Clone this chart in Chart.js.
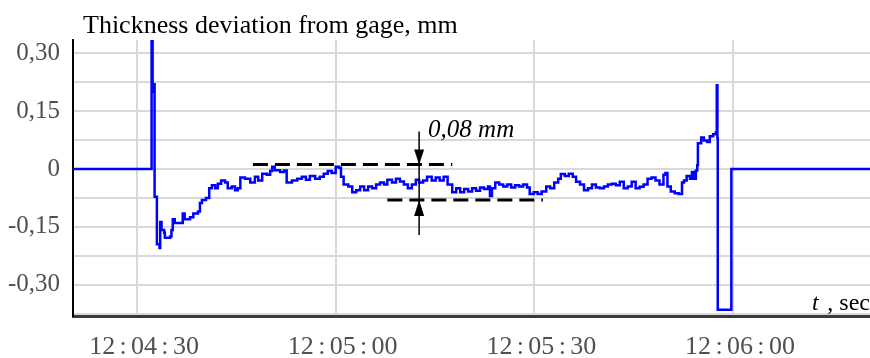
<!DOCTYPE html>
<html>
<head>
<meta charset="utf-8">
<title>Thickness deviation from gage</title>
<script src="https://cdn.jsdelivr.net/npm/chart.js@4.4.1/dist/chart.umd.min.js"></script>
<style>
  html, body { margin: 0; padding: 0; background: #fff; }
  #wrap { width: 870px; height: 358px; position: relative; }
</style>
</head>
<body>
<div id="wrap"><canvas id="chart"></canvas></div>
<script>
// time in seconds after 12:04:00, deviation in mm
const TIME_S = [
  20.3, 32.1, 32.2, 32.25, 32.3, 32.35, 32.65, 33.0, 33.4, 33.5, 33.7, 34.1, 34.2, 35.0,
  35.2, 35.4, 35.7, 36.5, 36.9, 37.2, 38.0, 38.5, 39.2, 39.5, 39.8, 40.4, 40.9, 41.3, 41.8,
  42.2, 42.7, 43.3, 43.7, 44.3, 44.8, 45.2, 45.6, 46.3, 47.1, 47.8, 48.3, 48.9, 49.6, 50.1,
  50.4, 50.8, 51.6, 52.2, 52.6, 53.4, 54.2, 54.9, 55.5, 56.1, 56.9, 57.6, 58.2, 58.8, 59.4,
  60.0, 60.5, 60.8, 61.2, 61.9, 62.5, 63.1, 63.7, 64.3, 64.9, 65.5, 66.1, 66.7, 67.3, 67.8,
  68.5, 69.1, 69.7, 70.3, 70.9, 71.5, 72.1, 72.6, 73.2, 73.8, 74.5, 75.1, 75.7, 76.3, 76.9,
  77.6, 78.2, 78.8, 79.4, 80.0, 80.6, 81.2, 81.8, 82.4, 83.0, 83.3, 83.6, 84.1, 84.7, 85.3,
  85.9, 86.5, 87.1, 87.7, 88.3, 88.9, 89.3, 89.9, 90.5, 91.1, 91.8, 92.4, 93.0, 93.6, 94.0,
  94.6, 95.2, 95.8, 96.3, 96.9, 97.5, 98.1, 98.7, 99.3, 99.9, 100.5, 101.1, 101.7, 102.3, 102.9,
  103.5, 104.1, 104.7, 105.3, 105.9, 106.5, 107.1, 107.7, 108.3, 108.9, 109.5, 109.8, 110.1, 110.6, 111.2,
  111.8, 112.3, 112.6, 113.0, 113.5, 113.8, 114.1, 114.4, 114.6, 114.7, 115.2, 115.6, 116.1, 116.5, 117.0,
  117.4, 117.55, 117.65, 117.7, 119.75, 140.7
];
const DEVIATION_MM = [
  0, 0, 0.40, 0.20, 0.40, 0.22, -0.072, -0.195, -0.205, -0.137, -0.158, -0.165, -0.178, -0.175,
  -0.158, -0.13, -0.14, -0.14, -0.115, -0.13, -0.125, -0.115, -0.11, -0.088, -0.08, -0.075, -0.05, -0.042, -0.05,
  -0.038, -0.03, -0.035, -0.05, -0.045, -0.055, -0.05, -0.022, -0.025, -0.035, -0.02, -0.03, -0.012, -0.015, -0.005,
  0.006, -0.003, -0.008, -0.004, -0.035, -0.03, -0.025, -0.02, -0.028, -0.018, -0.025, -0.02, -0.012, -0.005, -0.01,
  0.006, 0.003, -0.02, -0.04, -0.045, -0.06, -0.055, -0.045, -0.055, -0.045, -0.05, -0.04, -0.035, -0.04, -0.028,
  -0.035, -0.025, -0.032, -0.04, -0.05, -0.04, -0.028, -0.035, -0.03, -0.02, -0.03, -0.022, -0.03, -0.02, -0.04,
  -0.06, -0.05, -0.06, -0.052, -0.058, -0.05, -0.056, -0.048, -0.052, -0.045, -0.07, -0.05, -0.035, -0.04, -0.045,
  -0.04, -0.048, -0.042, -0.045, -0.04, -0.048, -0.065, -0.06, -0.065, -0.058, -0.045, -0.05, -0.035, -0.025, -0.013,
  -0.018, -0.012, -0.02, -0.033, -0.04, -0.055, -0.05, -0.04, -0.048, -0.05, -0.045, -0.04, -0.038, -0.042, -0.033,
  -0.05, -0.045, -0.033, -0.05, -0.046, -0.04, -0.025, -0.022, -0.03, -0.04, -0.015, -0.01, -0.045, -0.058, -0.063,
  -0.065, -0.035, -0.03, -0.018, -0.025, -0.008, -0.025, -0.004, 0.01, 0.067, 0.082, 0.074, 0.07, 0.085, 0.09,
  0.095, 0.217, 0.08, -0.365, 0, 0
];

const X_TICKS = [30, 60, 90, 120];
const X_TICK_LABELS = ['12\u2006:\u200604\u2006:\u200630', '12\u2006:\u200605\u2006:\u200600',
                       '12\u2006:\u200605\u2006:\u200630', '12\u2006:\u200606\u2006:\u200600'];
const Y_TICKS = [-0.375, -0.3, -0.225, -0.15, -0.075, 0, 0.075, 0.15, 0.225, 0.3];
const Y_TICK_LABELS = ['', '-0,30', '', '-0,15', '', '0', '', '0,15', '', '0,30'];

// the 0,08 mm band marked on the plot: [t from, t to, level]
const BAND_LINES = [[47.5, 77.6, 0.012], [67.8, 91.3, -0.080]];
const BAND_ARROW_T = 72.6;
const BAND_LABEL = '0,08 mm';

const SERIF = "'Liberation Serif', 'Times New Roman', serif";

const bandPlugin = {
  id: 'band',
  afterDatasetsDraw(chart) {
    const { ctx, scales: { x, y } } = chart;
    ctx.save();
    ctx.strokeStyle = '#000';
    ctx.fillStyle = '#000';
    ctx.lineWidth = 3;
    ctx.setLineDash([15, 7]);
    BAND_LINES.forEach(([t0, t1, v]) => {
      ctx.beginPath();
      ctx.moveTo(x.getPixelForValue(t0), y.getPixelForValue(v));
      ctx.lineTo(x.getPixelForValue(t1), y.getPixelForValue(v));
      ctx.stroke();
    });
    ctx.setLineDash([]);
    const ax = x.getPixelForValue(BAND_ARROW_T);
    const yTop = y.getPixelForValue(BAND_LINES[0][2]);
    const yBot = y.getPixelForValue(BAND_LINES[1][2]);
    ctx.lineWidth = 1.5;
    ctx.beginPath();
    ctx.moveTo(ax, yTop - 33);
    ctx.lineTo(ax, yBot + 35);
    ctx.stroke();
    // arrow heads
    ctx.beginPath();
    ctx.moveTo(ax, yTop); ctx.lineTo(ax - 5, yTop - 15); ctx.lineTo(ax + 5, yTop - 15); ctx.closePath();
    ctx.fill();
    ctx.beginPath();
    ctx.moveTo(ax, yBot); ctx.lineTo(ax - 5, yBot + 16); ctx.lineTo(ax + 5, yBot + 16); ctx.closePath();
    ctx.fill();
    ctx.font = 'italic 25px ' + SERIF;
    ctx.textBaseline = 'alphabetic';
    ctx.fillText(BAND_LABEL, ax + 9, yTop - 27);
    ctx.restore();
  },
  afterDraw(chart) {
    const { ctx, chartArea } = chart;
    ctx.save();
    ctx.fillStyle = '#000';
    ctx.textBaseline = 'alphabetic';
    ctx.font = '26px ' + SERIF;
    ctx.fillText('Thickness deviation from gage, mm', chartArea.left + 10, 33);
    // axis name in the lower right corner
    ctx.font = 'italic 24px ' + SERIF;
    ctx.fillText('t', chartArea.right - 58, chartArea.bottom - 6);
    ctx.font = '24px ' + SERIF;
    ctx.textAlign = 'right';
    ctx.fillText(' , sec', chartArea.right, chartArea.bottom - 6);
    ctx.restore();
  }
};

new Chart(document.getElementById('chart'), {
  type: 'line',
  data: {
    datasets: [{
      data: TIME_S.map((t, i) => ({ x: t, y: DEVIATION_MM[i] })),
      borderColor: '#0000ff',
      borderWidth: 2.5,
      pointRadius: 0,
      stepped: 'before',
      fill: false
    }]
  },
  options: {
    responsive: true,
    maintainAspectRatio: false,
    animation: false,
    layout: { padding: { top: 40, right: 0, left: 0, bottom: 0 } },
    plugins: { legend: { display: false }, tooltip: { enabled: false } },
    scales: {
      x: {
        type: 'linear',
        min: 20.33,
        max: 140.69,
        afterBuildTicks: s => { s.ticks = X_TICKS.map(v => ({ value: v })); },
        afterFit: s => { s.height = 42; },
        ticks: {
          autoSkip: false,
          maxRotation: 0,
          padding: 18,
          labelOffset: 7,
          color: '#505050',
          font: { family: SERIF, size: 26, lineHeight: 1 },
          callback: (v, i) => X_TICK_LABELS[i]
        },
        grid: { color: '#d9d9d9', lineWidth: 2, drawTicks: false },
        border: { color: '#3a3a3a', width: 3 }
      },
      y: {
        min: -0.381,
        max: 0.3345,
        afterBuildTicks: s => { s.ticks = Y_TICKS.map(v => ({ value: v })); },
        afterFit: s => { s.width = 73; },
        ticks: {
          autoSkip: false,
          padding: 13,
          color: '#505050',
          font: { family: SERIF, size: 25 },
          callback: (v, i) => Y_TICK_LABELS[i]
        },
        grid: { color: '#d9d9d9', lineWidth: 2, drawTicks: false },
        border: { color: '#000', width: 2 }
      }
    }
  },
  plugins: [bandPlugin]
});
</script>
</body>
</html>
